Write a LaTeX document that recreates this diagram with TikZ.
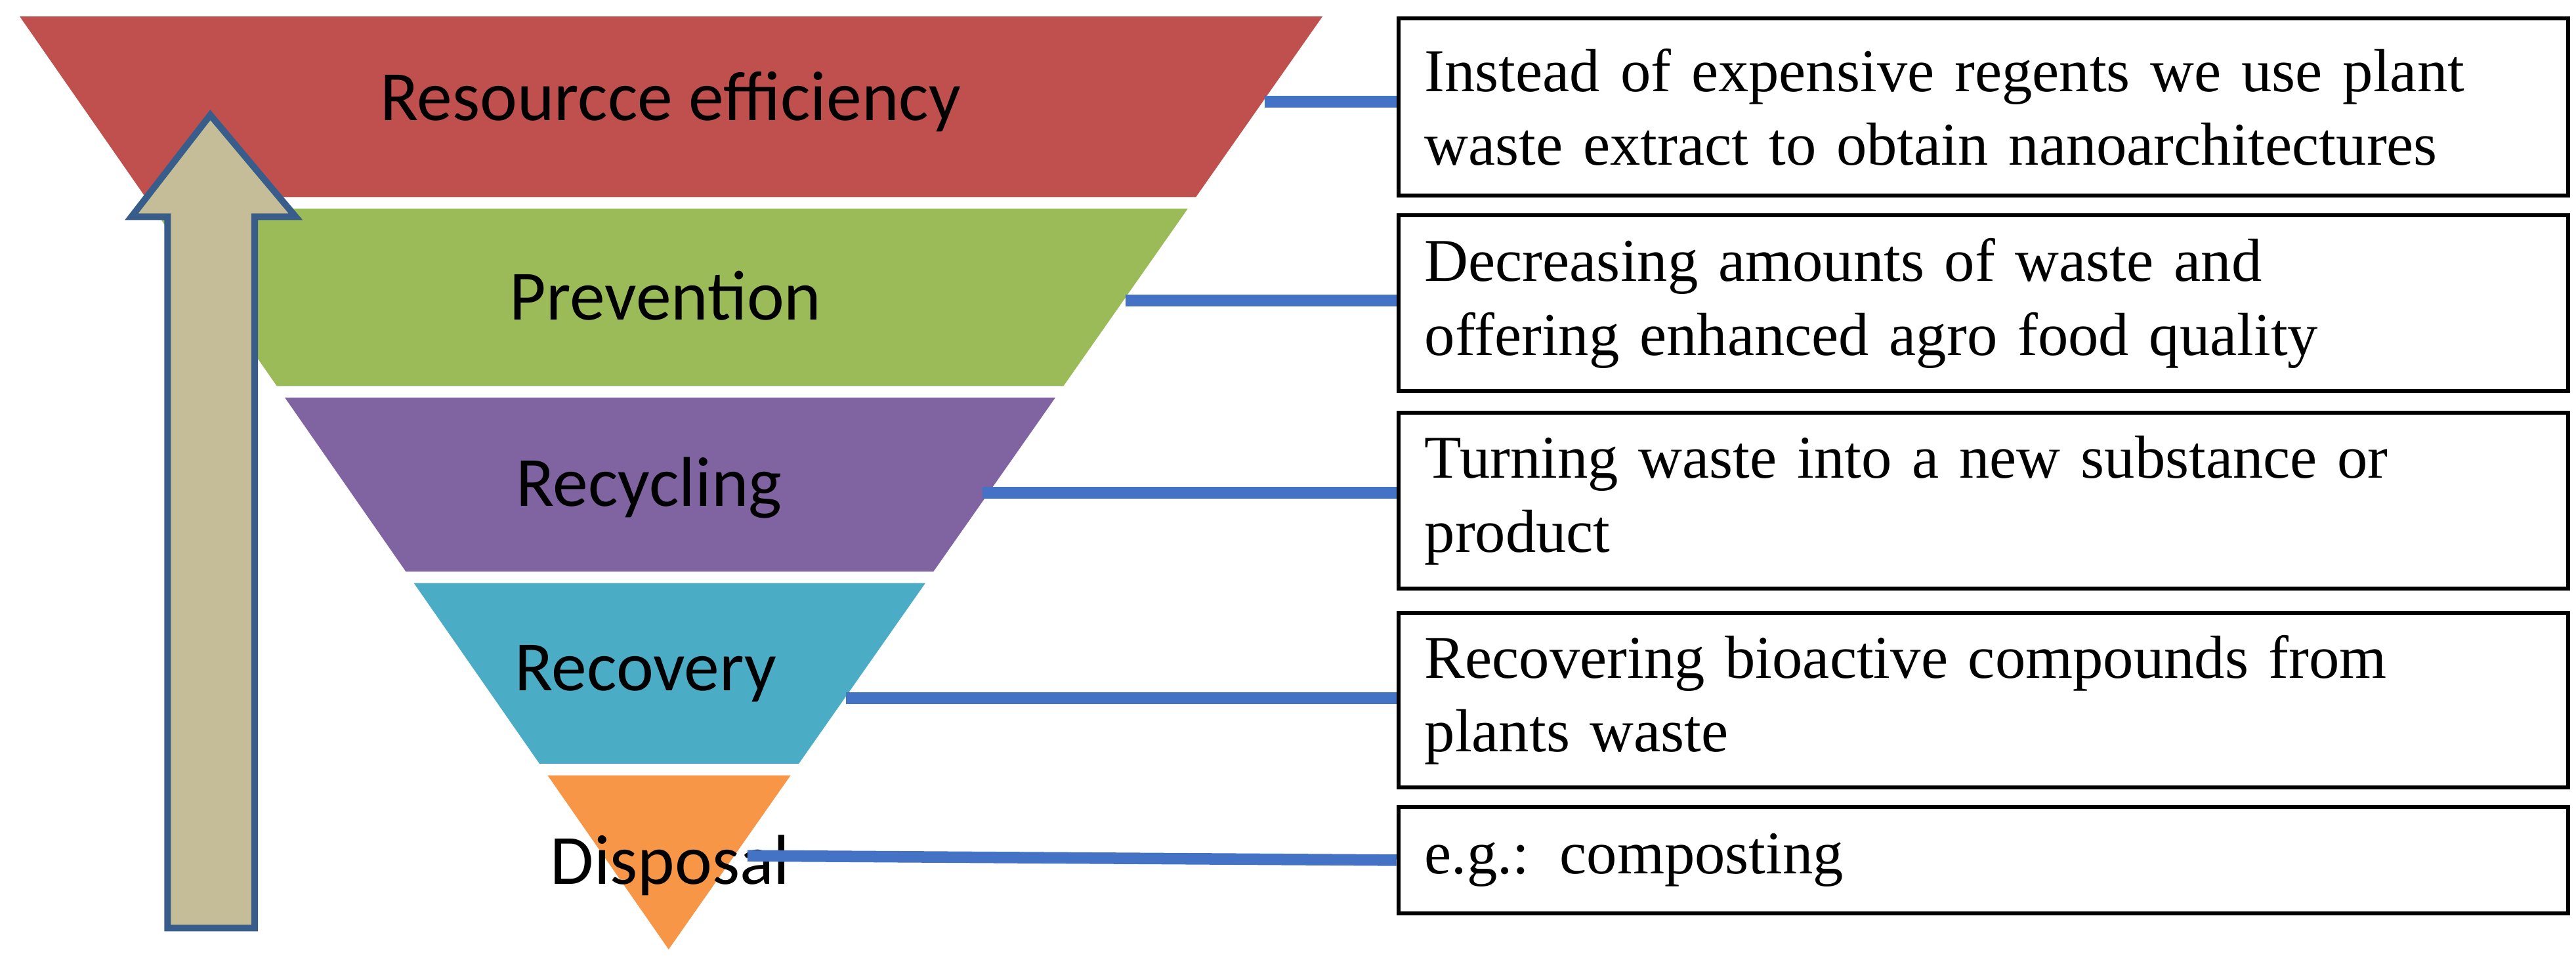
\documentclass[tikz,border=0pt]{standalone}
\usepackage{fontspec}
\setmainfont{Liberation Serif}
\newfontfamily\lab{Carlito}
\begin{document}
\begin{tikzpicture}[x=0.5pt,y=-0.5pt,
  lbl/.style={font=\lab\fontsize{21.5}{24}\selectfont},
  box/.style={draw,line width=1.2pt,anchor=north west,text width=340pt,inner xsep=8pt,align=left,font=\fontsize{18.5}{22.5}\selectfont},
  con/.style={draw={rgb,255:red,68;green,114;blue,196},line width=3.5pt}]
\useasboundingbox (0,0) rectangle (1568,583);
\def\L#1{12+(#1-10)*0.6954}
\def\R#1{805-(#1-10)*0.7007}
\foreach \ya/\yb/\c in {10/120/C0504D,127/235/9BBB59,242/348/8064A2,355/465/4BACC6,472/578/F79646}{
  \definecolor{bc}{HTML}{\c}
  \fill[bc] ({\L{\ya}},\ya) -- ({\R{\ya}},\ya) -- ({\R{\yb}},\yb) -- ({\L{\yb}},\yb) -- cycle;
}
\node[lbl] (l1) at (408,62) {Resourcce efficiency};
\node[lbl] (l2) at (405,180) {Prevention};
\node[lbl] (l3) at (395,297) {Recycling};
\node[lbl] (l4) at (393,410) {Recovery};
\node[lbl] (l5) at (408,527) {Disposal};
\definecolor{tan}{HTML}{C4BD97}\definecolor{ab}{HTML}{385D8A}
\draw[fill=tan,draw=ab,line width=2pt,line join=miter] (102,565) -- (102,132) -- (80,132) -- (128,70) -- (180,132) -- (155,132) -- (155,565) -- cycle;
\node[box,minimum height=54pt] (b1) at (850,10) {Instead of expensive regents we use plant\\waste extract to obtain nanoarchitectures};
\node[box,minimum height=53.5pt] (b2) at (850,130) {Decreasing amounts of waste and\\offering enhanced agro food quality};
\node[box,minimum height=53.5pt] (b3) at (850,250) {Turning waste into a new substance or\\product};
\node[box,minimum height=53pt] (b4) at (850,372) {Recovering bioactive compounds from\\plants waste};
\node[box,minimum height=32.5pt] (b5) at (850,490) {e.g.: composting};
\coordinate (c1) at (770,62);
\coordinate (c2) at (685,183);
\coordinate (c3) at (598,300);
\coordinate (c4) at (515,425);
\coordinate (c5) at (455,521);
\draw[con] (c1) -- (c1 -| b1.west);
\draw[con] (c2) -- (c2 -| b2.west);
\draw[con] (c3) -- (c3 -| b3.west);
\draw[con] (c4) -- (c4 -| b4.west);
\draw[con] (c5) -- (b5.west);
\end{tikzpicture}
\end{document}
